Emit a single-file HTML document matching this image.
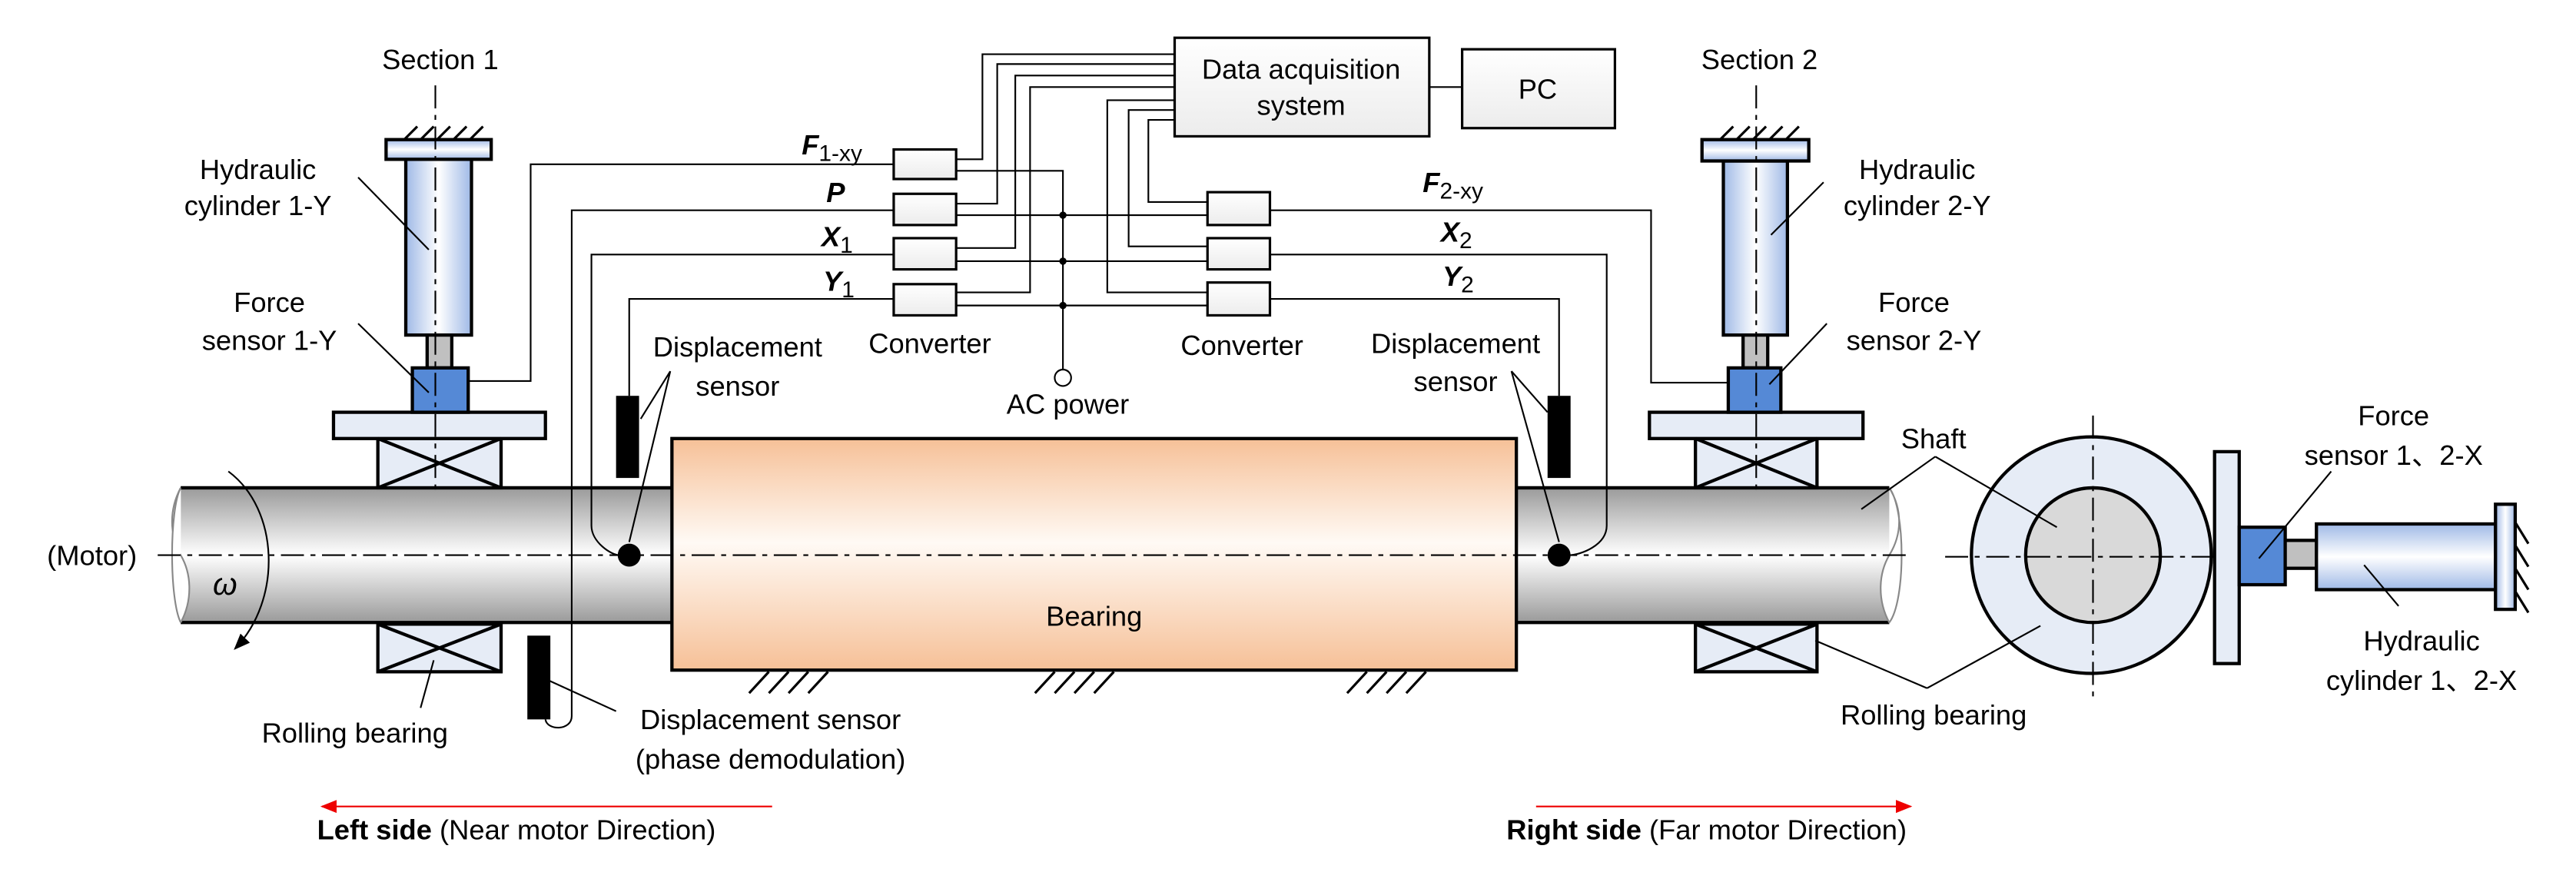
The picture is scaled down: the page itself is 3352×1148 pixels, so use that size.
<!DOCTYPE html>
<html><head><meta charset="utf-8"><style>html,body{margin:0;padding:0;background:#fff}svg{display:block}text{font-family:"Liberation Sans","Noto Sans CJK SC",sans-serif;font-size:17px;fill:#000}</style></head><body>
<svg width="3352" height="1148" viewBox="0 0 1568 537" preserveAspectRatio="none" xmlns="http://www.w3.org/2000/svg">
<defs>
<linearGradient id="cyl" x1="0" x2="1" y1="0" y2="0"><stop offset="0" stop-color="#9fb9e6"/><stop offset="0.5" stop-color="#ffffff"/><stop offset="1" stop-color="#9fb9e6"/></linearGradient>
<linearGradient id="cylv" x1="0" x2="0" y1="0" y2="1"><stop offset="0" stop-color="#9fb9e6"/><stop offset="0.5" stop-color="#ffffff"/><stop offset="1" stop-color="#9fb9e6"/></linearGradient>
<linearGradient id="shaft" x1="0" x2="0" y1="0" y2="1"><stop offset="0" stop-color="#9a9a9a"/><stop offset="0.5" stop-color="#ffffff"/><stop offset="1" stop-color="#9a9a9a"/></linearGradient>
<linearGradient id="org" x1="0" x2="0" y1="0" y2="1"><stop offset="0" stop-color="#f6c097"/><stop offset="0.45" stop-color="#fffaf5"/><stop offset="1" stop-color="#f6c097"/></linearGradient>
<linearGradient id="box" x1="0" x2="0" y1="0" y2="1"><stop offset="0" stop-color="#ffffff"/><stop offset="1" stop-color="#ececec"/></linearGradient>
<marker id="ar" markerWidth="10" markerHeight="8" refX="9" refY="4" orient="auto" markerUnits="userSpaceOnUse"><path d="M0,0 L10,4 L0,8 z" fill="#e00"/></marker>
<marker id="ab" markerWidth="10" markerHeight="8" refX="9" refY="4" orient="auto" markerUnits="userSpaceOnUse"><path d="M0,0 L10,4 L0,8 z" fill="#000"/></marker>
</defs>
<g stroke="#000" stroke-width="2">
<rect x="110" y="297" width="300" height="82" fill="url(#shaft)" stroke="none"/>
<line x1="110" y1="297" x2="410" y2="297"/><line x1="110" y1="379" x2="410" y2="379"/>
<rect x="922" y="297" width="228" height="82" fill="url(#shaft)" stroke="none"/>
<line x1="922" y1="297" x2="1150" y2="297"/><line x1="922" y1="379" x2="1150" y2="379"/>
<rect x="409" y="267" width="514" height="141" fill="url(#org)"/>
<g fill="#e6ecf6">
<rect x="230" y="267" width="75" height="30"/><rect x="230" y="380" width="75" height="29"/>
<rect x="1032" y="267" width="74" height="30"/><rect x="1032" y="380" width="74" height="29"/>
<rect x="203" y="251" width="129" height="16"/><rect x="1004" y="251" width="130" height="16"/>
</g>
<path d="M230,267 L305,297 M305,267 L230,297 M230,380 L305,409 M305,380 L230,409 M1032,267 L1106,297 M1106,267 L1032,297 M1032,380 L1106,409 M1106,380 L1032,409" fill="none"/>
<rect x="247" y="97" width="40" height="107" fill="url(#cyl)"/>
<rect x="235" y="85" width="64" height="12" fill="url(#cylv)"/>
<rect x="260" y="204" width="15" height="20" fill="#c0c0c0"/>
<rect x="251" y="224" width="34" height="27" fill="#5589d6"/>
<rect x="1049" y="98" width="39" height="106" fill="url(#cyl)"/>
<rect x="1036" y="85" width="65" height="13" fill="url(#cylv)"/>
<rect x="1061" y="204" width="15" height="20" fill="#c0c0c0"/>
<rect x="1052" y="224" width="32" height="27" fill="#5589d6"/>
<ellipse cx="1273" cy="338" rx="73" ry="72" fill="#e6ecf6"/>
<ellipse cx="1274" cy="338" rx="41" ry="41" fill="#d9d9d9"/>
<rect x="1348" y="275" width="15" height="129" fill="#e6ecf6"/>
<rect x="1363" y="321" width="28" height="35" fill="#5589d6"/>
<rect x="1391" y="329" width="19" height="17" fill="#c0c0c0"/>
<rect x="1410" y="319" width="109" height="40" fill="url(#cylv)"/>
<rect x="1519" y="307" width="12" height="64" fill="url(#cyl)"/>
</g>
<path d="M110,297 C103,310 103,325 110,338 C117,350 117,366 110,379" fill="#fff" stroke="#888" stroke-width="1"/>
<path d="M110,297 C103,310 103,365 110,379" fill="#fff" stroke="#888" stroke-width="1"/>
<path d="M1150,297 C1158,310 1158,325 1150,338 C1143,350 1143,366 1150,379 C1160,366 1160,310 1150,297z" fill="#fff" stroke="#888" stroke-width="1"/>
<g stroke="#000" stroke-width="1.5">
<path d="M246,85 l8,-8 M256,85 l8,-8 M266,85 l8,-8 M276,85 l8,-8 M286,85 l8,-8"/>
<path d="M1047,85 l8,-8 M1057,85 l8,-8 M1067,85 l8,-8 M1077,85 l8,-8 M1087,85 l8,-8"/>
<path d="M456,422 l12,-13 M468,422 l12,-13 M480,422 l12,-13 M492,422 l12,-13"/>
<path d="M630,422 l12,-13 M642,422 l12,-13 M654,422 l12,-13 M666,422 l12,-13"/>
<path d="M820,422 l12,-13 M832,422 l12,-13 M844,422 l12,-13 M856,422 l12,-13"/>
<path d="M1531,318 l8,13 M1531,332 l8,13 M1531,346 l8,13 M1531,360 l8,13"/>
</g>
<g stroke="#000" stroke-width="1" stroke-dasharray="14,4,3,4" fill="none">
<line x1="96" y1="338" x2="1160" y2="338"/>
<line x1="265" y1="52" x2="265" y2="300"/>
<line x1="1069" y1="52" x2="1069" y2="300"/>
<line x1="1184" y1="339" x2="1348" y2="339"/>
<line x1="1274" y1="253" x2="1274" y2="426"/>
</g>
<rect x="375" y="241" width="14" height="50" fill="#000"/>
<rect x="321" y="387" width="14" height="51" fill="#000"/>
<rect x="942" y="241" width="14" height="50" fill="#000"/>
<ellipse cx="383" cy="338" rx="7" ry="7" fill="#000"/>
<ellipse cx="949" cy="338" rx="7" ry="7" fill="#000"/>
<g stroke="#000" stroke-width="1.5" fill="url(#box)">
<rect x="715" y="23" width="155" height="60"/>
<rect x="890" y="30" width="93" height="48"/>
<rect x="544" y="91" width="38" height="18"/><rect x="544" y="118" width="38" height="19"/>
<rect x="544" y="145" width="38" height="19"/><rect x="544" y="173" width="38" height="19"/>
<rect x="735" y="117" width="38" height="20"/><rect x="735" y="145" width="38" height="19"/>
<rect x="735" y="172" width="38" height="20"/>
</g>
<g stroke="#000" stroke-width="1" fill="none">
<line x1="870" y1="53" x2="890" y2="53"/>
<path d="M582,97 H598 V33 H715"/>
<path d="M582,124 H607 V39 H715"/>
<path d="M582,151 H618 V46 H715"/>
<path d="M582,178 H627 V53 H715"/>
<path d="M715,61 H674 V178 H735"/>
<path d="M715,67 H687 V150 H735"/>
<path d="M715,73 H699 V123 H735"/>
<path d="M582,104 H647 V225"/>
<path d="M582,131 H735 M582,159 H735 M582,186 H735"/>
<path d="M544,100 H323 V232 H285"/>
<path d="M544,128 H348 V436 C348,445 333,445 332,438"/>
<path d="M544,155 H360 V320 C360,330 372,338 377,338"/>
<path d="M544,182 H383 V241"/>
<path d="M773,128 H1005 V233 H1052"/>
<path d="M773,155 H978 V320 C978,332 962,338 955,338"/>
<path d="M773,182 H949 V241"/>
<path d="M218,108 L261,152 M218,197 L261,239 M408,226 L390,255 M408,226 L383,330 M256,431 L264,402 M375,433 L329,412"/>
<path d="M1110,111 L1078,143 M1112,197 L1077,234 M920,226 L942,251 M920,226 L949,330"/>
<path d="M1178,278 L1133,310 M1178,278 L1252,321 M1173,419 L1105,390 M1173,419 L1242,381"/>
<path d="M1419,287 L1375,340 M1460,369 L1439,344"/>
<path d="M139,287 C170,310 172,365 143,395" marker-end="url(#ab)"/>
</g>
<circle cx="647" cy="230" r="5" fill="#fff" stroke="#000" stroke-width="1"/>
<circle cx="647" cy="131" r="2.2" fill="#000"/><circle cx="647" cy="159" r="2.2" fill="#000"/><circle cx="647" cy="186" r="2.2" fill="#000"/>
<line x1="470" y1="491" x2="196" y2="491" stroke="#e00" stroke-width="1" marker-end="url(#ar)"/>
<line x1="935" y1="491" x2="1163" y2="491" stroke="#e00" stroke-width="1" marker-end="url(#ar)"/>
<text x="268" y="42" text-anchor="middle">Section 1</text>
<text x="1071" y="42" text-anchor="middle">Section 2</text>
<text x="157" y="109" text-anchor="middle">Hydraulic</text>
<text x="157" y="131" text-anchor="middle">cylinder 1-Y</text>
<text x="164" y="190" text-anchor="middle">Force</text>
<text x="164" y="213" text-anchor="middle">sensor 1-Y</text>
<text x="1167" y="109" text-anchor="middle">Hydraulic</text>
<text x="1167" y="131" text-anchor="middle">cylinder 2-Y</text>
<text x="1165" y="190" text-anchor="middle">Force</text>
<text x="1165" y="213" text-anchor="middle">sensor 2-Y</text>
<text x="449" y="217" text-anchor="middle">Displacement</text>
<text x="449" y="241" text-anchor="middle">sensor</text>
<text x="886" y="215" text-anchor="middle">Displacement</text>
<text x="886" y="238" text-anchor="middle">sensor</text>
<text x="566" y="215" text-anchor="middle">Converter</text>
<text x="756" y="216" text-anchor="middle">Converter</text>
<text x="650" y="252" text-anchor="middle">AC power</text>
<text x="792" y="48" text-anchor="middle">Data acquisition</text>
<text x="792" y="70" text-anchor="middle">system</text>
<text x="936" y="60" text-anchor="middle">PC</text>
<text x="666" y="381" text-anchor="middle">Bearing</text>
<text x="56" y="344" text-anchor="middle">(Motor)</text>
<text x="137" y="362" text-anchor="middle" style="font-style:italic;font-size:19px">ω</text>
<text x="216" y="452" text-anchor="middle">Rolling bearing</text>
<text x="469" y="444" text-anchor="middle">Displacement sensor</text>
<text x="469" y="468" text-anchor="middle">(phase demodulation)</text>
<text x="1177" y="273" text-anchor="middle">Shaft</text>
<text x="1177" y="441" text-anchor="middle">Rolling bearing</text>
<text x="1457" y="259" text-anchor="middle">Force</text>
<text x="1457" y="283" text-anchor="middle">sensor 1、2-X</text>
<text x="1474" y="396" text-anchor="middle">Hydraulic</text>
<text x="1474" y="420" text-anchor="middle">cylinder 1、2-X</text>
<g style="font-weight:bold;font-style:italic;font-size:20px">
<text x="488" y="94">F<tspan style="font-size:14px;font-style:normal;font-weight:normal" dy="4">1-xy</tspan></text>
<text x="503" y="123">P</text>
<text x="500" y="150">X<tspan style="font-size:14px;font-style:normal;font-weight:normal" dy="4">1</tspan></text>
<text x="501" y="177">Y<tspan style="font-size:14px;font-style:normal;font-weight:normal" dy="4">1</tspan></text>
<text x="866" y="117">F<tspan style="font-size:14px;font-style:normal;font-weight:normal" dy="4">2-xy</tspan></text>
<text x="877" y="147">X<tspan style="font-size:14px;font-style:normal;font-weight:normal" dy="4">2</tspan></text>
<text x="878" y="174">Y<tspan style="font-size:14px;font-style:normal;font-weight:normal" dy="4">2</tspan></text>
</g>
<text x="193" y="511"><tspan font-weight="bold">Left side</tspan> (Near motor Direction)</text>
<text x="917" y="511"><tspan font-weight="bold">Right side</tspan> (Far motor Direction)</text>
</svg>
</body></html>
